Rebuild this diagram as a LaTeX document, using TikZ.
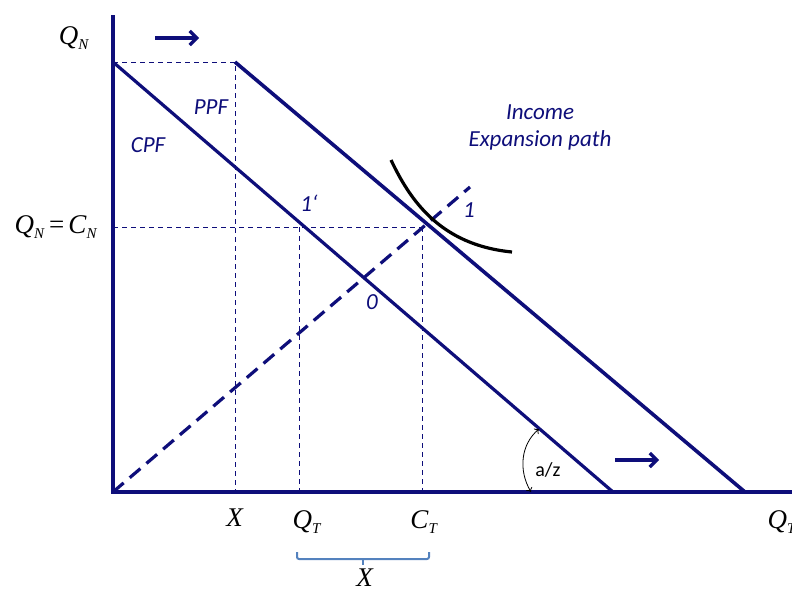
\documentclass[tikz,border=0pt]{standalone}
\usepackage{fontspec}
\setmainfont{Liberation Serif}
\newfontfamily\lblfont{Carlito}
\usetikzlibrary{arrows.meta}
\definecolor{navy}{RGB}{14,14,122}
\definecolor{bracecol}{RGB}{84,130,190}
\newcommand{\qsub}[2]{\textit{#1}\raisebox{-0.45ex}{\fontsize{15}{15}\selectfont\textit{#2}}}% letter, index
\tikzset{
  axis/.style={draw=navy,line width=4.5pt},
  budget/.style={draw=navy,line width=3.2pt},
  guide/.style={draw=navy,line width=1pt,dash pattern=on 5pt off 4pt},
  expath/.style={draw=navy,line width=3.2pt,dash pattern=on 14pt off 8pt},
  movearrow/.style={draw=navy,line width=3.2pt,-{Straight Barb[length=7pt,width=14pt]}},
  lbl/.style={font=\lblfont\itshape\fontsize{23}{27}\selectfont,text=navy},
  mth/.style={font=\fontsize{27}{29}\selectfont},
}
\begin{document}
\begin{tikzpicture}[x=1pt,y=-1pt]
  \useasboundingbox (0,0) rectangle (792,592);
  % points of the graph
  \coordinate (o) at (113,492);
  \coordinate (ytop) at (113,15);
  \coordinate (xend) at (800,492);
  \coordinate (cpfT) at (113,62);
  \coordinate (cpfB) at (613,492);
  \coordinate (ppfT) at (235,62);
  \coordinate (ppfB) at (745,492);
  \coordinate (xB) at (235,492);
  \coordinate (e) at (422,227);
  \coordinate (e1) at (299,227);
  \coordinate (yE) at (113,227);
  \coordinate (qB) at (299,492);
  \coordinate (cB) at (422,492);
  \coordinate (pathEnd) at (470,187);
  % guides
  \draw[guide] (cpfT) -- (ppfT) -- (xB);
  \draw[guide] (yE) -- (e1) -- (e);
  \draw[guide] (e1) -- (qB);
  \draw[guide] (e) -- (cB);
  % income expansion path
  \draw[expath] (o) -- (pathEnd);
  % frontiers
  \draw[budget] (cpfT) -- (cpfB);
  \draw[budget,line width=3.6pt] (ppfT) -- (ppfB);
  % indifference curve
  \coordinate (icA) at (391,160);
  \coordinate (icB) at (512,252);
  \draw[line width=3.2pt] (icA) .. controls (410,200) and (440,245) .. (icB);
  % axes
  \draw[axis] (ytop) -- (113,494);
  \draw[axis] (111,492) -- (xend);
  % shift arrows
  \coordinate (s1a) at (155,38); \coordinate (s1b) at (199,38);
  \coordinate (s2a) at (615,460); \coordinate (s2b) at (659,460);
  \draw[movearrow] (s1a) -- (s1b);
  \draw[movearrow] (s2a) -- (s2b);
  % angle
  \coordinate (angA) at (531,492);
  \coordinate (angB) at (539,429);
  \draw[line width=0.8pt,{To[length=4pt,width=7pt]}-{To[length=4pt,width=7pt]}] (angA) .. controls (518,470) and (521,444) .. (angB);
  \node[font=\lblfont\fontsize{20}{22}\selectfont] (az) at (548,470) {a/z};
  % labels
  \node[lbl] (ppf) at (211,107) {PPF};
  \node[lbl] (cpf) at (148,145) {CPF};
  \node[lbl] (one1) at (309,203) {1‘};
  \node[lbl] (one) at (469,210) {1};
  \node[lbl] (zero) at (372,302) {0};
  \node[lbl,align=center,font=\lblfont\itshape\fontsize{23}{27}\selectfont] (inc) at (540,127) {Income\\Expansion path};
  \node[mth] (qn) at (74,38) {\qsub{Q}{N}};
  \node[mth] (qncn) at (56,227) {\qsub{Q}{N}$\,$=$\,$\qsub{C}{N}};
  \node[mth] (xl) at (235,518) {\textit{X}};
  \node[mth] (qt) at (307,522) {\qsub{Q}{T}};
  \node[mth] (ct) at (424,522) {\qsub{C}{T}};
  \node[mth,anchor=west] (qtx) at (764,522) {\qsub{Q}{T}};
  % brace
  \coordinate (brL) at (297,552);
  \coordinate (brR) at (429,552);
  \coordinate (brM) at (363,565);
  \draw[bracecol,line width=2pt,rounded corners=2pt] (brL) -- (297,559) -- (429,559) -- (brR);
  \draw[bracecol,line width=2pt] (363,559) -- (brM);
  \node[mth] (xb) at (365,578) {\textit{X}};
\end{tikzpicture}
\end{document}
